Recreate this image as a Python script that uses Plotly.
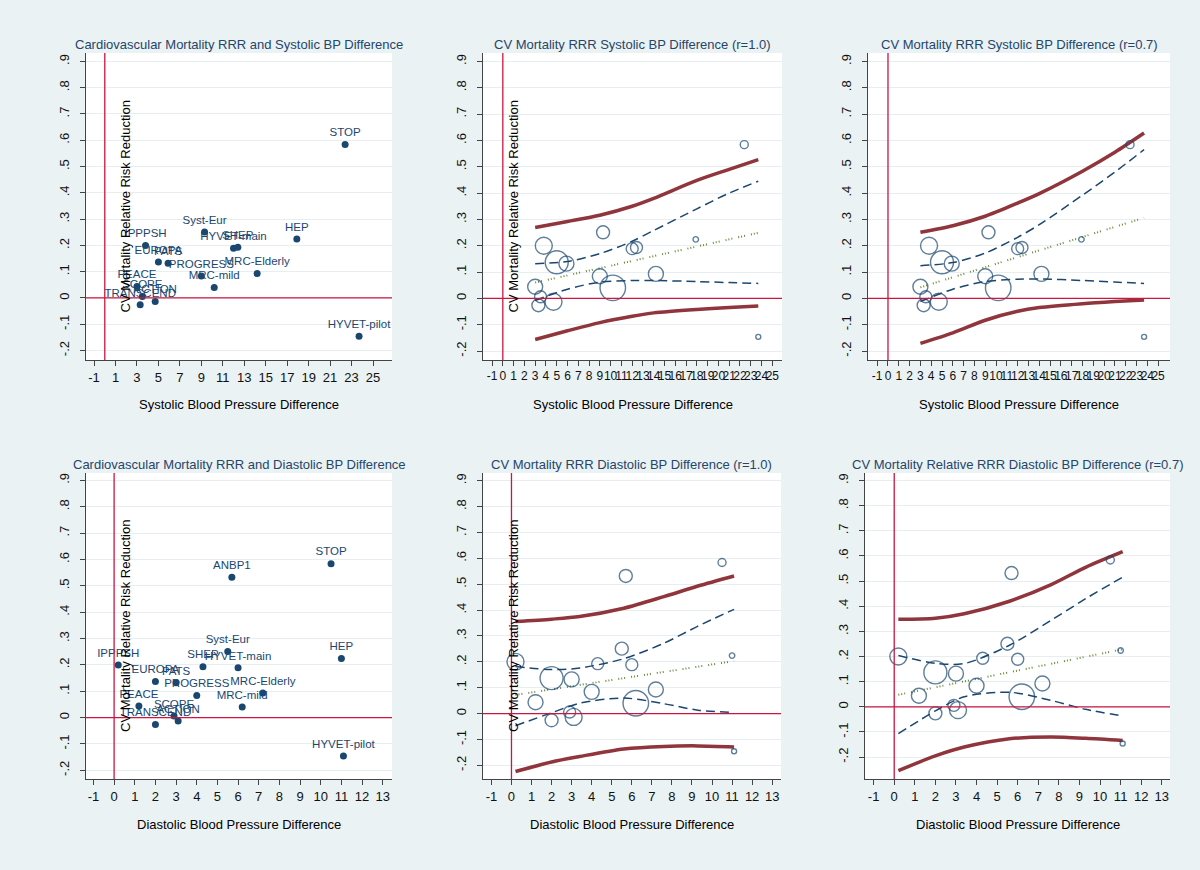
import plotly.graph_objects as go

W, H = 1200, 870

# ---------------- data ----------------
studies = ["STOP", "HYVET-pilot", "HEP", "Syst-Eur", "SHEP", "HYVET-main", "IPPPSH", "EUROPA",
           "PATS", "PROGRESS", "MRC-Elderly", "MRC-mild", "PEACE", "SCOPE", "TRANSCEND", "ACTION", "ANBP1"]
sbp_diff = [22.4, 23.7, 17.9, 9.3, 12.4, 12.0, 3.8, 5.0, 5.9, 9.0, 14.2, 10.2, 3.0, 3.5, 3.3, 4.7, None]
dbp_diff = [10.5, 11.1, 11.0, 5.5, 4.3, 6.0, 0.2, 2.0, 3.0, 4.0, 7.2, 6.2, 1.2, 2.9, 2.0, 3.1, 5.7]
rrr = [0.584, -0.146, 0.224, 0.251, 0.193, 0.189, 0.200, 0.137, 0.132, 0.084, 0.093, 0.040, 0.044,
       0.006, -0.026, -0.013, 0.532]
weight = [64, 25, 30, 169, 144, 144, 289, 529, 225, 225, 225, 650, 225, 144, 169, 289, 169]

# systolic meta-regression curves
sys_grid = [3.0, 6.0, 9.0, 12.0, 14.0, 18.0, 21.0, 23.7]
sys_r10_pi_up = [0.269, 0.292, 0.316, 0.350, 0.380, 0.448, 0.490, 0.527]
sys_r10_ci_up = [0.132, 0.140, 0.170, 0.217, 0.258, 0.340, 0.400, 0.445]
sys_r10_fit = [0.060, 0.087, 0.115, 0.142, 0.160, 0.197, 0.224, 0.249]
sys_r10_ci_lo = [-0.008, 0.035, 0.062, 0.068, 0.068, 0.064, 0.060, 0.057]
sys_r10_pi_lo = [-0.156, -0.123, -0.092, -0.068, -0.055, -0.042, -0.035, -0.029]

sys_r07_pi_up = [0.251, 0.276, 0.312, 0.362, 0.398, 0.483, 0.555, 0.628]
sys_r07_ci_up = [0.124, 0.136, 0.172, 0.232, 0.280, 0.392, 0.480, 0.565]
sys_r07_fit = [0.042, 0.080, 0.119, 0.157, 0.182, 0.233, 0.272, 0.306]
sys_r07_ci_lo = [-0.012, 0.035, 0.064, 0.073, 0.074, 0.068, 0.062, 0.057]
sys_r07_pi_lo = [-0.171, -0.131, -0.083, -0.049, -0.035, -0.020, -0.012, -0.006]

# diastolic meta-regression curves
dia_grid = [0.2, 2.0, 3.4, 5.6, 7.6, 9.3, 11.1]
dia_r10_pi_up = [0.356, 0.365, 0.375, 0.407, 0.452, 0.493, 0.532]
dia_r10_ci_up = [0.182, 0.170, 0.176, 0.212, 0.272, 0.338, 0.403]
dia_r10_fit = [0.072, 0.094, 0.111, 0.137, 0.161, 0.182, 0.203]
dia_r10_ci_lo = [-0.047, 0.003, 0.040, 0.060, 0.038, 0.013, 0.004]
dia_r10_pi_lo = [-0.224, -0.187, -0.166, -0.137, -0.127, -0.125, -0.129]

dia_r07_pi_up = [0.348, 0.352, 0.370, 0.420, 0.485, 0.555, 0.617]
dia_r07_ci_up = [0.204, 0.173, 0.172, 0.245, 0.343, 0.430, 0.516]
dia_r07_fit = [0.048, 0.078, 0.101, 0.138, 0.171, 0.200, 0.229]
dia_r07_ci_lo = [-0.107, -0.016, 0.040, 0.058, 0.026, -0.010, -0.036]
dia_r07_pi_lo = [-0.254, -0.195, -0.160, -0.127, -0.120, -0.125, -0.134]

ytick_vals = [-0.2, -0.1, 0, 0.1, 0.2, 0.3, 0.4, 0.5, 0.6, 0.7, 0.8, 0.9]
ytick_text = ["-.2", "-.1", "0", ".1", ".2", ".3", ".4", ".5", ".6", ".7", ".8", ".9"]
sys_ticks_left = list(range(-1, 26, 2))
sys_ticks_all = list(range(-1, 26))
dia_ticks = list(range(-1, 14))

titles = ["Cardiovascular Mortality RRR and Systolic BP Difference",
          "CV Mortality RRR Systolic BP Difference (r=1.0)",
          "CV Mortality RRR Systolic BP Difference (r=0.7)",
          "Cardiovascular Mortality RRR and Diastolic BP Difference",
          "CV Mortality RRR Diastolic BP Difference (r=1.0)",
          "CV Mortality Relative RRR Diastolic BP Difference (r=0.7)"]
ytitle = "CV Mortality Relative Risk Reduction"
xtitle_sys = "Systolic Blood Pressure Difference"
xtitle_dia = "Diastolic Blood Pressure Difference"

# ---------------- style ----------------
BG = "#eaf2f3"
NAVY = "#1a476f"
TITLE_C = "#25456b"
REF = "#cc1540"
MAROON = "#90353b"
GREEN = "#6a8a35"
FONT = "Liberation Sans, Arial, sans-serif"

# panels: (left, right, top, bottom) in pixels, x range, y range
panels = [
    dict(px=(86, 392, 53, 360), xr=(-1.75, 26.77), yr=(-0.236, 0.932), xt=sys_ticks_left),
    dict(px=(483, 782, 53, 360), xr=(-1.84, 25.9), yr=(-0.234, 0.932), xt=sys_ticks_all),
    dict(px=(868, 1170, 53, 360), xr=(-1.85, 26.1), yr=(-0.234, 0.932), xt=sys_ticks_all),
    dict(px=(86, 392, 473, 779), xr=(-1.36, 13.45), yr=(-0.233, 0.928), xt=dia_ticks),
    dict(px=(483, 781, 473, 779), xr=(-1.42, 13.44), yr=(-0.253, 0.93), xt=dia_ticks),
    dict(px=(865, 1170, 473, 779), xr=(-1.42, 13.4), yr=(-0.287, 0.93), xt=dia_ticks),
]

fig = go.Figure()
layout = dict(width=W, height=H, margin=dict(l=0, r=0, t=0, b=0), paper_bgcolor=BG,
              plot_bgcolor="white", showlegend=False, font=dict(family=FONT, size=13, color="black"))
annotations = []
shapes = []

for i, p in enumerate(panels):
    n = "" if i == 0 else str(i + 1)
    l, r, t, b = p["px"]
    layout["xaxis" + n] = dict(domain=[l / W, r / W], range=list(p["xr"]), anchor="y" + n,
                               tickvals=p["xt"], ticktext=[str(v) for v in p["xt"]], tickangle=0,
                               showgrid=False, zeroline=False, showline=True, linecolor="#444",
                               linewidth=1, ticks="outside", ticklen=5, tickcolor="#444",
                               tickfont=dict(size=12 if i in (1, 2) else 13, color="#111"))
    layout["yaxis" + n] = dict(domain=[1 - b / H, 1 - t / H], range=list(p["yr"]), anchor="x" + n,
                               tickvals=ytick_vals, ticktext=ytick_text, tickangle=-90,
                               showgrid=True, gridcolor="#e6eef0", gridwidth=1, zeroline=False,
                               showline=True, linecolor="#444", linewidth=1, ticks="outside",
                               ticklen=5, tickcolor="#444", ticklabelstandoff=6,
                               tickfont=dict(size=13, color="#111"))
    xa, ya = "x" + n, "y" + n
    # reference lines at 0
    shapes.append(dict(type="line", xref=xa, yref=ya + " domain", x0=0, x1=0, y0=0, y1=1,
                       line=dict(color=REF, width=1.3), layer="above"))
    shapes.append(dict(type="line", xref=xa + " domain", yref=ya, x0=0, x1=1, y0=0, y1=0,
                       line=dict(color=REF, width=1.3), layer="above"))
    cx = (l + r) / 2
    annotations.append(dict(text=titles[i], x=cx / W, y=1 - (t - 9) / H, xref="paper", yref="paper",
                            showarrow=False, xanchor="center", yanchor="middle",
                            font=dict(size=13, color=TITLE_C)))
    annotations.append(dict(text=xtitle_sys if i < 3 else xtitle_dia, x=cx / W, y=1 - (b + 45) / H,
                            xref="paper", yref="paper", showarrow=False, xanchor="center",
                            yanchor="middle", font=dict(size=13, color="black")))
    if i in (0, 1, 3, 4):
        ax_x = l + (39 if i in (0, 3) else 30)
        annotations.append(dict(text=ytitle, x=ax_x / W, y=1 - ((t + b) / 2) / H, xref="paper",
                                yref="paper", showarrow=False, textangle=-90, xanchor="center",
                                yanchor="middle", font=dict(size=13, color="black")))

# scatter panels with labels
sx = [v for v in sbp_diff if v is not None]
sy = [rrr[k] for k, v in enumerate(sbp_diff) if v is not None]
sl = [studies[k] for k, v in enumerate(sbp_diff) if v is not None]
sw = [weight[k] for k, v in enumerate(sbp_diff) if v is not None]

fig.add_trace(go.Scatter(x=sx, y=sy, text=sl, mode="markers+text", textposition="top center",
                         textfont=dict(size=11.5, color=NAVY), marker=dict(color=NAVY, size=7),
                         xaxis="x", yaxis="y"))
fig.add_trace(go.Scatter(x=dbp_diff, y=rrr, text=studies, mode="markers+text",
                         textposition="top center", textfont=dict(size=11.5, color=NAVY),
                         marker=dict(color=NAVY, size=7), xaxis="x4", yaxis="y4"))


def add_curves(xa, ya, grid, pi_up, ci_up, fit, ci_lo, pi_lo):
    for yy in (pi_up, pi_lo):
        fig.add_trace(go.Scatter(x=grid, y=yy, mode="lines", xaxis=xa, yaxis=ya,
                                 line=dict(color=MAROON, width=3.5, shape="spline", smoothing=0.8)))
    for yy in (ci_up, ci_lo):
        fig.add_trace(go.Scatter(x=grid, y=yy, mode="lines", xaxis=xa, yaxis=ya,
                                 line=dict(color=NAVY, width=1.5, dash="9px,5px", shape="spline",
                                           smoothing=0.8)))
    fig.add_trace(go.Scatter(x=grid, y=fit, mode="lines", xaxis=xa, yaxis=ya,
                             line=dict(color=GREEN, width=2, dash="1px,2px,1px,2px,1px,6px")))


def add_bubbles(xa, ya, xs, ys, ws):
    fig.add_trace(go.Scatter(x=xs, y=ys, mode="markers", xaxis=xa, yaxis=ya,
                             marker=dict(symbol="circle-open", size=ws, sizemode="area", sizeref=2,
                                         color=NAVY, line=dict(width=1.4, color=NAVY))))


add_curves("x2", "y2", sys_grid, sys_r10_pi_up, sys_r10_ci_up, sys_r10_fit, sys_r10_ci_lo, sys_r10_pi_lo)
add_bubbles("x2", "y2", sx, sy, sw)
add_curves("x3", "y3", sys_grid, sys_r07_pi_up, sys_r07_ci_up, sys_r07_fit, sys_r07_ci_lo, sys_r07_pi_lo)
add_bubbles("x3", "y3", sx, sy, sw)
add_curves("x5", "y5", dia_grid, dia_r10_pi_up, dia_r10_ci_up, dia_r10_fit, dia_r10_ci_lo, dia_r10_pi_lo)
add_bubbles("x5", "y5", dbp_diff, rrr, weight)
add_curves("x6", "y6", dia_grid, dia_r07_pi_up, dia_r07_ci_up, dia_r07_fit, dia_r07_ci_lo, dia_r07_pi_lo)
add_bubbles("x6", "y6", dbp_diff, rrr, weight)

layout["annotations"] = annotations
layout["shapes"] = shapes
fig.update_layout(**layout)
fig.write_html("out.html", config={"displayModeBar": False},
               post_script="document.body.style.margin='0';document.body.style.background='" + BG + "';")
